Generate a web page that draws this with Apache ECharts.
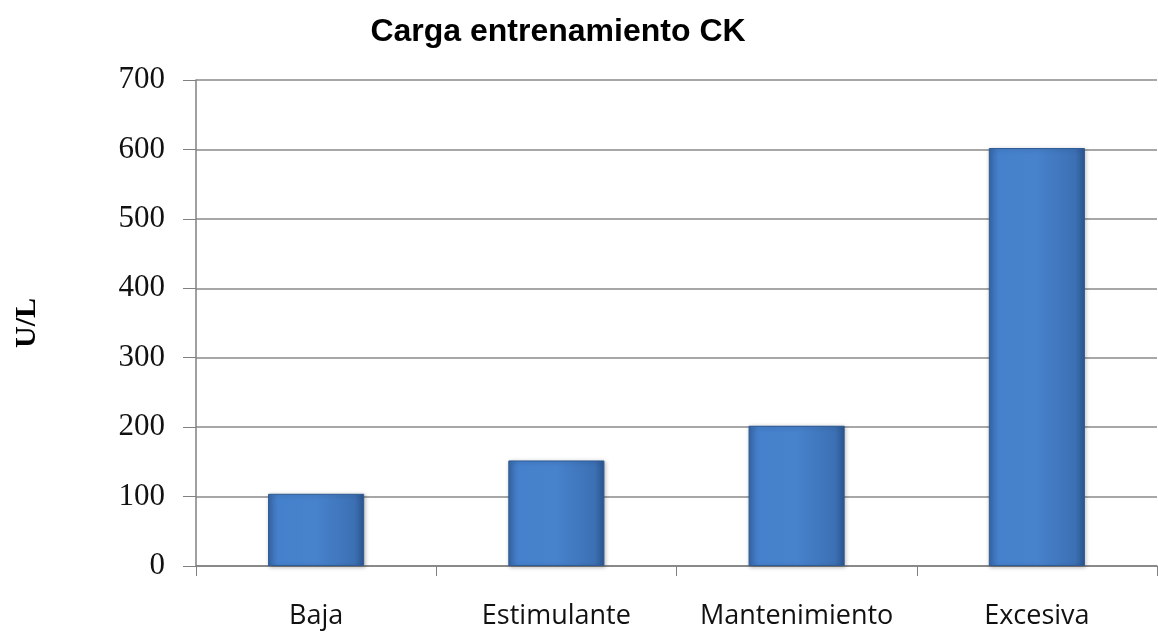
<!DOCTYPE html>
<html><head><meta charset="utf-8">
<script src="https://cdn.jsdelivr.net/npm/echarts@6/dist/echarts.min.js"></script>
<style>html,body{margin:0;padding:0;background:#fff}#c{width:1158px;height:635px}</style>
</head><body><div id="c"></div>
<script>
const categories = ['Baja', 'Estimulante', 'Mantenimiento', 'Excesiva'];
const values = [104, 152, 202, 602];
const yTicks = [0, 100, 200, 300, 400, 500, 600, 700];
const titleText = 'Carga entrenamiento CK';
const yName = 'U/L';

const chart = echarts.init(document.getElementById('c'), null, {renderer: 'canvas'});
chart.setOption({
  backgroundColor: '#ffffff',
  animation: false,
  title: {
    text: titleText, left: 553, top: 11, textAlign: 'center',
    textStyle: {fontFamily: 'Liberation Sans', fontWeight: 'bold', fontSize: 32, color: '#000'}
  },
  grid: {left: 196, right: 1, top: 80, bottom: 69, containLabel: false, outerBoundsMode: 'none'},
  xAxis: {
    type: 'category', data: categories, boundaryGap: true,
    axisLine: {lineStyle: {color: '#808080', width: 1.5}},
    axisTick: {show: true, length: 10, lineStyle: {color: '#808080'}},
    axisLabel: {interval: 0, hideOverlap: false, margin: 37, fontFamily: 'Open Sans', fontSize: 27, color: '#111'}
  },
  yAxis: {
    type: 'value', min: yTicks[0], max: yTicks[yTicks.length - 1], interval: 100,
    name: yName, nameLocation: 'middle', nameGap: 154, nameRotate: 90,
    nameTextStyle: {fontFamily: 'Liberation Serif', fontWeight: 'bold', fontSize: 30, color: '#000'},
    axisLine: {show: true, lineStyle: {color: '#808080', width: 1.5}},
    axisTick: {show: true, length: 13, lineStyle: {color: '#808080'}},
    splitLine: {lineStyle: {color: '#8a8a8a', width: 1.5}},
    axisLabel: {margin: 31, fontFamily: 'Liberation Serif', fontSize: 31, color: '#111'}
  },
  series: [{
    type: 'bar', data: values, barWidth: '40%',
    itemStyle: {
      color: new echarts.graphic.LinearGradient(0, 0, 1, 0, [
        {offset: 0, color: '#3767a8'},
        {offset: 0.1, color: '#4580cc'},
        {offset: 0.5, color: '#4782cc'},
        {offset: 0.9, color: '#3c70b4'},
        {offset: 1, color: '#2c558e'}
      ]),
      borderColor: '#2f5a94', borderWidth: 1,
      shadowColor: 'rgba(0,0,0,0.25)', shadowBlur: 4, shadowOffsetX: 1, shadowOffsetY: 1
    }
  }]
});
</script></body></html>
